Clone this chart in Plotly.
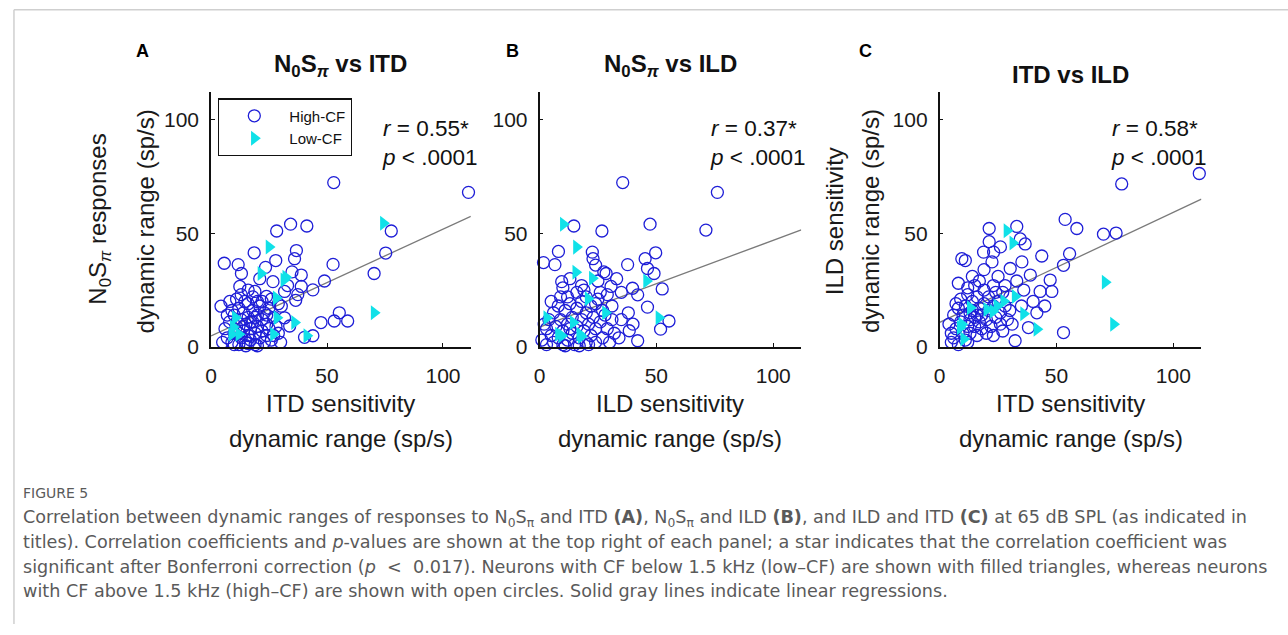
import plotly.graph_objects as go

W, H = 1288, 635

# ---------------- data ----------------
axis_ticks = [0, 50, 100]
axis_range = [0, 112]

panel_letters = ["A", "B", "C"]
panel_titles = ["<b>N<sub>0</sub>S<sub><i>π</i></sub> vs ITD</b>",
                "<b>N<sub>0</sub>S<sub><i>π</i></sub> vs ILD</b>",
                "<b>ITD vs ILD</b>"]
x_titles = [("ITD sensitivity", "dynamic range (sp/s)"),
            ("ILD sensitivity", "dynamic range (sp/s)"),
            ("ITD sensitivity", "dynamic range (sp/s)")]
r_values = ["0.55*", "0.37*", "0.58*"]
p_values = [".0001", ".0001", ".0001"]
reg_intercepts = [4.8, 8.7, 10.8]
reg_slopes = [0.47, 0.382, 0.484]

a_high = [(52.9, 72.3), (111, 68), (34.3, 54), (41.3, 53.2), (28.3, 51), (77.7, 51),
          (18.6, 41.4), (36.8, 42.4), (75.3, 41.3), (5.7, 36.8), (11.7, 36.2), (27.9, 38),
          (36, 38.8), (52.6, 36.3), (13.1, 32.3), (23.5, 35), (70.3, 32.3), (34.9, 33),
          (38.9, 31.6), (48.9, 29), (12.4, 26.6), (26.7, 28.7), (38.9, 26.6), (18.9, 24.4),
          (23.9, 22.2), (31.7, 24.4), (37.4, 23), (43.9, 25.1), (8.1, 20), (4.3, 17.9),
          (14.6, 20), (30.3, 17.9), (55.3, 15), (58.9, 11.4), (53.1, 11.4), (47.4, 10.7),
          (43.9, 4.9), (40.3, 4.2), (33.9, 9.2), (31.7, 12.8), (36.5, 20.5), (33, 27),
          (21, 30), (16, 25), (20, 20),
          (6, 8), (7, 4), (8, 11), (9, 2), (10, 6), (10, 14), (11, 9), (12, 1), (12, 17),
          (13, 4), (13, 12), (14, 7), (14, 15), (15, 2), (15, 10), (16, 5), (16, 13),
          (16, 19), (17, 8), (17, 3), (18, 11), (18, 16), (19, 1), (19, 6), (20, 9),
          (20, 14), (21, 4), (21, 18), (22, 7), (22, 12), (23, 2), (23, 15), (24, 10),
          (24, 5), (25, 17), (25, 8), (26, 3), (27, 13), (28, 9), (29, 6), (29, 19),
          (30, 2), (11, 21), (9, 16), (7, 14), (5, 2), (13, 23), (18, 22), (26, 21),
          (15, 0.5), (20, 0.5), (22, 20), (19, 13), (17, 11), (14, 9), (12, 6), (24, 14),
          (27, 5), (10, 1), (16, 1.5)]
a_low = [(74.3, 54.4), (25, 44), (21.5, 32.3), (31.4, 29.4), (32.2, 30.6), (28.1, 21.5),
         (70.3, 15), (10.5, 12.8), (28.4, 12.8), (36, 10.7), (26.9, 5.6), (41.3, 4.9),
         (8.9, 5.6), (12, 5.6), (9.6, 8.8)]

b_high = [(35.6, 72.3), (76.1, 68), (14.7, 53.2), (26.7, 51), (47.3, 54), (71.2, 51.4),
          (8.1, 42), (1.7, 37.1), (6.6, 36.2), (22.6, 41.7), (22.9, 38.8), (37.7, 36.2),
          (45.2, 38.8), (49.7, 41.4), (46.2, 34.5), (49, 32.3), (52.5, 25.5), (9.5, 28.7),
          (28.5, 32.3), (30.6, 26.6), (39.8, 25.8), (42, 22.9), (46.2, 17.5), (55.4, 11.4),
          (51.8, 7.8), (42, 2.7), (38.4, 7.1), (24, 36), (27.5, 33), (10, 26), (13, 30),
          (18, 27), (25, 29), (33, 30), (35, 24), (29, 23), (31, 18), (38, 15), (40, 10),
          (35, 12), (32, 6), (34, 4), (12, 22), (16, 24), (20, 22), (24, 19), (27, 16),
          (1, 3), (3, 1), (3, 8), (4, 12), (5, 5), (6, 2), (6, 15), (7, 9), (8, 18),
          (8, 4), (9, 12), (10, 1), (10, 7), (11, 16), (12, 10), (12, 3), (13, 19),
          (14, 6), (14, 13), (15, 1), (16, 9), (16, 17), (17, 4), (18, 12), (18, 20),
          (19, 7), (20, 2), (20, 15), (21, 10), (22, 5), (22, 18), (23, 13), (24, 2),
          (24, 8), (25, 21), (26, 11), (27, 4), (28, 14), (29, 8), (30, 2), (31, 12),
          (26, 24), (19, 25), (9, 22), (5, 20), (2, 10), (11, 0.5), (17, 0.5), (21, 1),
          (13, 8)]
b_low = [(10.2, 54), (15.8, 43.9), (15.5, 32.8), (22.6, 30.2), (45.8, 29), (20.8, 21.2),
         (28.2, 15), (51.1, 12.8), (3.1, 12.8), (14.4, 10.7), (8.1, 5.6), (17.2, 5.6),
         (17.9, 4.6), (9.5, 4.9)]

c_high = [(111.1, 76.3), (77.9, 71.7), (53.7, 56.1), (58.7, 52.1), (70.1, 49.6), (75.5, 50.1),
          (21.2, 52.1), (33, 53), (21.2, 46.3), (34.5, 47.5), (36.6, 45.3), (43.7, 40),
          (55.6, 41), (53, 35.9), (9.5, 38.8), (11, 38), (18.8, 41.7), (23.1, 41.7),
          (22.4, 37.4), (30.2, 34.5), (35.2, 37.4), (38.8, 31.6), (47.3, 29.4), (43, 24.4),
          (48, 24.4), (41.6, 15), (38, 8.5), (53, 6.3), (32.3, 2.7), (26, 44), (19, 34),
          (14, 31), (8, 28), (12, 26), (17, 29), (25, 31), (28, 27), (33, 29), (36, 25),
          (30, 22), (24, 24), (40, 20), (35, 18), (27, 7), (23, 5), (31, 10), (45, 18),
          (4, 10), (5, 6), (5, 2), (6, 4), (6, 14), (7, 8), (8, 1), (8, 17), (9, 11),
          (9, 21), (10, 6), (10, 14), (11, 3), (11, 18), (12, 9), (12, 23), (13, 12),
          (13, 6), (14, 16), (14, 20), (15, 9), (15, 13), (16, 5), (16, 22), (17, 11),
          (17, 17), (18, 14), (18, 8), (19, 19), (19, 25), (20, 12), (21, 16), (21, 22),
          (22, 9), (23, 18), (23, 27), (24, 13), (25, 20), (26, 15), (27, 24), (28, 18),
          (29, 12), (30, 16), (20, 6), (12, 2), (7, 19), (15, 27), (26, 10), (13, 15),
          (16, 14)]
c_low = [(28.8, 51.1), (31.3, 45.7), (70.8, 28.4), (74.4, 10), (41.6, 7.8), (35.9, 14.6),
         (32.3, 22.2), (27.4, 20.1), (22.8, 15.7), (20.2, 16.5), (13.1, 17.2), (9.5, 10),
         (8.8, 8.5), (10.3, 3.5), (24.5, 18)]

high_sets = [a_high, b_high, c_high]
low_sets = [a_low, b_low, c_low]

# ---------------- styling / layout helpers ----------------
FONT = "Liberation Sans, Arial, sans-serif"
CAP_FONT = "DejaVu Sans, sans-serif"
BLUE = "rgb(30,30,215)"
CYAN = "rgb(16,225,232)"


def px(x):
    return x / W


def py(y):
    return 1 - y / H


x_doms = [(206, 467), (536, 799), (938, 1201)]
y_dom = (353, 94)

fig = go.Figure()

for i in range(3):
    ax = "" if i == 0 else str(i + 1)
    hx = [p[0] for p in high_sets[i]]
    hy = [p[1] for p in high_sets[i]]
    lx = [p[0] for p in low_sets[i]]
    ly = [p[1] for p in low_sets[i]]
    fig.add_trace(go.Scatter(
        x=[axis_range[0], axis_range[1]],
        y=[reg_intercepts[i] + reg_slopes[i] * axis_range[0],
           reg_intercepts[i] + reg_slopes[i] * axis_range[1]],
        mode="lines", line=dict(color="#7a7a7a", width=1.3),
        showlegend=False, xaxis="x" + ax, yaxis="y" + ax, hoverinfo="skip"))
    fig.add_trace(go.Scatter(
        x=hx, y=hy, mode="markers", name="High-CF",
        marker=dict(symbol="circle-open", size=12, color=BLUE, line=dict(width=1.3, color=BLUE)),
        cliponaxis=False, showlegend=(i == 0), xaxis="x" + ax, yaxis="y" + ax))
    fig.add_trace(go.Scatter(
        x=lx, y=ly, mode="markers", name="Low-CF",
        marker=dict(symbol="triangle-right", size=13, color=CYAN, line=dict(width=0)),
        cliponaxis=False, showlegend=(i == 0), xaxis="x" + ax, yaxis="y" + ax))

axis_common = dict(
    range=axis_range, tickvals=axis_ticks, ticktext=[str(t) for t in axis_ticks],
    showline=True, linecolor="#111", linewidth=1.6, mirror=False,
    ticks="inside", ticklen=4, tickcolor="#111", tickwidth=1.3,
    showgrid=False, zeroline=False,
    tickfont=dict(family=FONT, size=21, color="#1a1a1a"),
)

layout_axes = {}
for i in range(3):
    sfx = "" if i == 0 else str(i + 1)
    layout_axes["xaxis" + sfx] = dict(
        axis_common, domain=[px(x_doms[i][0]), px(x_doms[i][1])],
        anchor="y" + sfx, ticklabelstandoff=9)
    layout_axes["yaxis" + sfx] = dict(
        axis_common, domain=[py(y_dom[0]), py(y_dom[1])],
        anchor="x" + sfx, ticklabelstandoff=6)

annotations = []


def ann(text, x, y, size, color="#1a1a1a", family=FONT, xanchor="center", yanchor="middle",
        align="center", textangle=0):
    annotations.append(dict(text=text, x=px(x), y=py(y), xref="paper", yref="paper",
                            showarrow=False, xanchor=xanchor, yanchor=yanchor, align=align,
                            textangle=textangle,
                            font=dict(family=family, size=size, color=color)))


letter_x = [137, 509, 864]
title_y = [67, 67, 76]
for i in range(3):
    cx = (x_doms[i][0] + x_doms[i][1]) / 2
    ann("<b>%s</b>" % panel_letters[i], letter_x[i], 52, 18, color="#000")
    ann(panel_titles[i], cx, title_y[i], 24, color="#111")
    ann(x_titles[i][0], cx, 411, 24)
    ann(x_titles[i][1], cx, 446, 24)

stat_x = [376, 705, 1108]
for i in range(3):
    ann("<i>r</i> = %s<br><i>p</i> &lt; %s" % (r_values[i], p_values[i]),
        stat_x[i], 146, 22.5, color="#111", xanchor="left", align="left")

# y-axis titles
ann("N<sub>0</sub>S<sub><i>π</i></sub> responses", 94, 223, 24, textangle=-90)
ann("dynamic range (sp/s)", 140, 225, 24, textangle=-90)
ann("ILD sensitivity", 832, 225, 24, textangle=-90)
ann("dynamic range (sp/s)", 868, 225, 24, textangle=-90)

# caption
CAP_COLOR = "#5a5a5a"
caption_lines = [
    "Correlation between dynamic ranges of responses to N<sub>0</sub>S<sub>π</sub> and ITD <b>(A)</b>, "
    "N<sub>0</sub>S<sub>π</sub> and ILD <b>(B)</b>, and ILD and ITD <b>(C)</b> at 65 dB SPL (as indicated in",
    "titles). Correlation coefficients and <i>p</i>-values are shown at the top right of each panel; "
    "a star indicates that the correlation coefficient was",
    "significant after Bonferroni correction (<i>p</i>  &lt;  0.017). Neurons with CF below 1.5 kHz "
    "(low\u2013CF) are shown with filled triangles, whereas neurons",
    "with CF above 1.5 kHz (high\u2013CF) are shown with open circles. Solid gray lines indicate linear regressions.",
]
cap_y = [528, 552, 577, 601]
ann("FIGURE 5", 15, 502, 14, color=CAP_COLOR, family=CAP_FONT, xanchor="left", align="left")
for t, yy in zip(caption_lines, cap_y):
    ann(t, 15, yy, 17.6, color=CAP_COLOR, family=CAP_FONT, xanchor="left", align="left")

shapes = [
    dict(type="line", xref="paper", yref="paper", x0=px(8), x1=1, y0=py(10), y1=py(10),
         line=dict(color="#cfcfcf", width=1.5)),
    dict(type="line", xref="paper", yref="paper", x0=px(8), x1=px(8), y0=0, y1=py(10),
         line=dict(color="#cfcfcf", width=1.5)),
]

fig.update_layout(
    width=W, height=H, margin=dict(l=0, r=0, t=0, b=0),
    paper_bgcolor="white", plot_bgcolor="white",
    annotations=annotations, shapes=shapes,
    showlegend=True,
    legend=dict(x=px(213), y=py(100), xanchor="left", yanchor="top",
                bordercolor="#111", borderwidth=1.3, bgcolor="white",
                font=dict(family=FONT, size=15, color="#111"),
                itemwidth=60, tracegroupgap=0),
    **layout_axes,
)

fig.write_html("out.html")
